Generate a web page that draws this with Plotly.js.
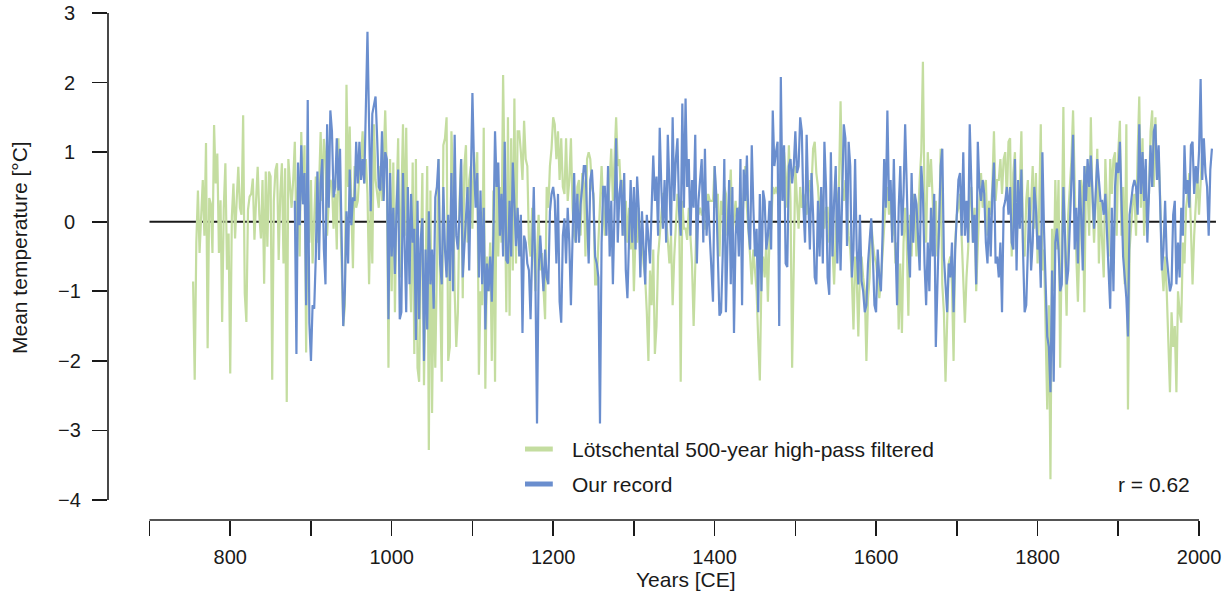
<!DOCTYPE html>
<html>
<head>
<meta charset="utf-8">
<script src="https://cdn.plot.ly/plotly-3.0.1.min.js"></script>
<style>
  html, body { margin: 0; padding: 0; background: #ffffff; }
  #chart { width: 1227px; height: 599px; }
</style>
</head>
<body>
<div id="chart"></div>
<script>
// Two-yearly temperature anomalies (°C), first value at the start year of each series.
const STEP = 2;
const LOTSCHENTAL_START = 754;
const OUR_RECORD_START = 880;

const lotschental = [
  /* 750 */ -0.86, -2.27, -0.3,
  /* 760 */ 0.45, -0.45, 0.2, 0.6, -0.2,
  /* 770 */ 1.13, -1.82, 0.34, 0.26, -0.45,
  /* 780 */ 1.39, 0.55, 0.98, -0.45, 0.31,
  /* 790 */ -1.44, 0.2, 0.84, -0.69, -0.17,
  /* 800 */ -2.18, 0.07, 0.55, -0.24, 0.31,
  /* 810 */ 0.79, 0.2, 0.1, 1.53, -1.03,
  /* 820 */ -1.44, 0.17, 0.36, 0.4, 0.62,
  /* 830 */ -0.26, 0.3, 0.79, 0.1, -0.24,
  /* 840 */ 0.6, -0.89, 0.72, -0.36, 0.72,
  /* 850 */ 0.65, -2.27, 0.3, 0.74, 0.84,
  /* 860 */ -0.55, 0.4, 0.84, -0.6, 0.77,
  /* 870 */ -2.59, 0.9, 0.5, 0.2, 0.6,
  /* 880 */ 1.15, -0.2, 0.5, -0.5, 1.29,
  /* 890 */ 0.3, 1.1, -1.88, 0.4, -0.3,
  /* 900 */ 0.6, -0.6, 0.2, 0.65, -0.3,
  /* 910 */ 0.5, 1.29, 0.3, 1.19, 0.9,
  /* 920 */ -0.2, 0.3, 0.6, 0.55, -0.1,
  /* 930 */ 0.4, -0.4, 1.2, 0.3, -0.5,
  /* 940 */ -1.5, -1.2, 1.97, 0.5, 1.37,
  /* 950 */ 0.2, -0.67, 0.8, 0.2, 0.3,
  /* 960 */ 0.7, 0.9, 1.3, 0.55, 0.9,
  /* 970 */ 0.4, -0.9, 0.3, -0.6, 1.4,
  /* 980 */ 0.6, 0.4, 0.2, 0.8, 0.3,
  /* 990 */ 0.9, 1.6, 0.7, -2.1, 0.9,
  /* 1000 */ -1.0, 0.85, -1.3, 0.3, 1.2,
  /* 1010 */ -0.8, 0.2, 1.4, -0.2, 1.35,
  /* 1020 */ -0.5, -0.6, -1.3, 0.85, -1.9,
  /* 1030 */ 0.9, -2.1, -2.3, -0.6, 0.7,
  /* 1040 */ -2.35, -0.7, 0.8, -3.28, 0.45,
  /* 1050 */ -2.75, -0.8, -2.1, -0.5, 0.9,
  /* 1060 */ -1.0, -2.3, 1.1, 1.2, 1.5,
  /* 1070 */ -2.0, -1.8, 1.3, 0.6, -1.0,
  /* 1080 */ -1.8, -1.3, 0.3, 0.9, -1.1,
  /* 1090 */ 0.8, 1.1, -0.3, 0.6, 0.8,
  /* 1100 */ -0.1, 1.0, 0.4, 1.0, -2.2,
  /* 1110 */ -1.0, -1.2, 1.35, -2.4, -0.5,
  /* 1120 */ -1.0, -0.3, -2.0, 0.45, -2.3,
  /* 1130 */ 0.85, -0.5, 0.5, -0.3, 2.11,
  /* 1140 */ 0.5, -1.3, 1.5, -1.35, 1.2,
  /* 1150 */ -0.7, 1.77, -0.6, 1.3, 1.3,
  /* 1160 */ 1.0, 0.6, 1.45, 0.9, 0.8,
  /* 1170 */ -0.3, -0.5, 0.2, -0.25, -1.0,
  /* 1180 */ -0.5, 0.1, -0.7, -0.45, -0.95,
  /* 1190 */ -1.4, 0.5, 0.2, 0.8, 1.05,
  /* 1200 */ 1.5, 1.4, 0.9, 1.3, 0.6,
  /* 1210 */ 1.2, 0.5, 0.4, 1.2, 0.3,
  /* 1220 */ 0.6, 1.2, 0.2, -0.2, -0.3,
  /* 1230 */ 0.5, 0.6, -0.2, 0.7, 0.55,
  /* 1240 */ -0.5, 0.9, 1.0, 0.9, 0.5,
  /* 1250 */ 0.4, -0.9, -0.9, -0.3, 0.3,
  /* 1260 */ 0.8, 0.2, -0.2, 0.4, 0.2,
  /* 1270 */ 0.6, 1.05, 0.3, 0.8, 1.5,
  /* 1280 */ 0.8, 0.9, 0.4, 0.6, -0.2,
  /* 1290 */ 0.3, -0.3, 0.2, -0.4, 0.1,
  /* 1300 */ -1.0, -0.2, -0.3, 0.2, -0.5,
  /* 1310 */ -0.1, -0.6, -0.8, -1.3, -2.0,
  /* 1320 */ -0.7, -1.2, -0.4, -1.9, -1.5,
  /* 1330 */ -0.5, -0.2, 0.1, 0.4, 0.4,
  /* 1340 */ 0.1, -0.3, -0.6, -0.2, -1.2,
  /* 1350 */ -0.5, -0.1, 0.4, 0.3, -2.3,
  /* 1360 */ 0.3, -0.1, -0.1, -0.26, 0.2,
  /* 1370 */ -0.3, -0.6, -1.5, -0.4, 0.2,
  /* 1380 */ 0.1, 0.2, 0.1, 0.1, -0.1,
  /* 1390 */ -0.1, 0.4, 0.3, 0.3, 0.3,
  /* 1400 */ 0.8, 0.2, 0.4, -0.5, 0.3,
  /* 1410 */ 0.1, 0.5, 0.4, -0.2, 0.2,
  /* 1420 */ 0.75, -0.2, 0.1, 0.3, -0.1,
  /* 1430 */ 0.2, 0.2, -0.1, 0.4, 0.8,
  /* 1440 */ 0.2, -0.1, -0.5, -0.9, -0.4,
  /* 1450 */ -0.7, -1.0, -1.7, -2.28, -0.8,
  /* 1460 */ -0.5, -0.8, -0.3, -1.15, -0.2,
  /* 1470 */ -0.1, 0.5, 0.4, 0.5, 0.4,
  /* 1480 */ 0.6, 0.5, 0.8, 1.0, 0.7,
  /* 1490 */ 0.2, 1.1, 0.3, -2.1, -0.3,
  /* 1500 */ 0.8, 0.3, -0.1, 0.5, 0.2,
  /* 1510 */ 0.4, 0.3, 0.1, 0.4, 0.6,
  /* 1520 */ 0.5, 1.05, 1.15, 0.7, 0.5,
  /* 1530 */ 0.1, 0.4, 0.3, -0.1, 0.2,
  /* 1540 */ 0.2, -0.3, 0.1, -0.5, -0.9,
  /* 1550 */ -0.2, 0.3, 0.5, 1.73, 0.5,
  /* 1560 */ 0.3, 0.6, 0.2, -0.2, -0.4,
  /* 1570 */ -0.8, -1.55, -0.5, -0.8, -1.65,
  /* 1580 */ -0.7, -0.5, -0.8, -1.0, -2.0,
  /* 1590 */ -1.1, -0.8, 0.0, -0.3, -0.5,
  /* 1600 */ -0.6, -0.9, -1.1, -0.85, -0.4,
  /* 1610 */ 0.0, 0.3, 0.5, 0.1, 0.4,
  /* 1620 */ -0.2, 0.2, -0.6, -0.3, -1.55,
  /* 1630 */ -0.6, -1.6, -0.3, 0.2, -0.3,
  /* 1640 */ -1.35, 0.1, -0.5, 0.4, 0.2,
  /* 1650 */ -0.5, 0.2, 0.6, 1.0, 2.3,
  /* 1660 */ 0.3, -0.3, 1.0, 0.5, 0.9,
  /* 1670 */ 0.4, -0.2, 0.3, -0.5, -0.2,
  /* 1680 */ 1.05, -0.9, -1.3, -2.3, -1.4,
  /* 1690 */ -0.6, -0.5, -0.9, -2.0, -0.3,
  /* 1700 */ 0.1, 0.2, 0.4, -0.3, -0.8,
  /* 1710 */ -1.45, -0.8, -0.4, 0.3, 0.5,
  /* 1720 */ -0.3, 0.2, -1.0, -0.2, 0.3,
  /* 1730 */ 0.7, 0.2, 0.5, 0.6, -0.2,
  /* 1740 */ 0.3, 0.1, 0.5, 1.3, 0.3,
  /* 1750 */ 0.6, 0.6, 0.9, 0.4, 0.9,
  /* 1760 */ 1.0, 0.3, 1.15, 1.2, -0.5,
  /* 1770 */ 0.7, 1.0, -0.4, 0.3, 0.5,
  /* 1780 */ 1.3, -0.3, -0.5, 0.3, 0.6,
  /* 1790 */ -0.3, 0.4, 0.8, -0.1, 0.7,
  /* 1800 */ -0.6, 0.2, 1.4, -0.7, -0.4,
  /* 1810 */ -1.7, -2.7, -1.2, -3.7, -0.1,
  /* 1820 */ -1.0, 0.6, -0.4, 0.6, -2.1,
  /* 1830 */ -0.3, 1.65, -0.5, -1.35, 0.1,
  /* 1840 */ 0.5, 0.9, 1.6, 0.3, -0.5,
  /* 1850 */ -1.15, -0.3, 0.6, 0.4, -1.3,
  /* 1860 */ 0.8, 0.5, -0.2, 1.5, 0.3,
  /* 1870 */ -0.3, 0.3, 1.05, -0.6, 0.3,
  /* 1880 */ -0.3, -0.8, 0.9, 0.2, -0.5,
  /* 1890 */ 0.9, 0.4, 0.9, 1.0, -0.2,
  /* 1900 */ 1.0, 1.45, -0.2, 0.5, -0.9,
  /* 1910 */ 1.4, -2.7, -0.4, -0.1, 0.3,
  /* 1920 */ 0.4, -0.2, 1.0, 1.8, 0.2,
  /* 1930 */ 1.2, -0.2, 0.4, 0.1, 0.4,
  /* 1940 */ 1.3, 1.6, 0.5, 1.5, 0.6,
  /* 1950 */ 1.0, 0.3, -0.6, -1.0, -0.5,
  /* 1960 */ -1.0, -1.6, -2.45, -1.3, -1.8,
  /* 1970 */ -1.5, -2.45, -1.0, -1.3, -1.45,
  /* 1980 */ -0.3, -0.6, 0.2, 0.4, 0.7,
  /* 1990 */ -0.1, -0.9, -0.2, 0.3, 0.7,
  /* 2000 */ 0.1, 0.5, 1.0
];

const ourRecord = [
  /* 880 */ 0.3, -1.9, 0.85, -0.05, 1.1,
  /* 890 */ 0.25, 0.7, -1.2, 1.75, -1.45,
  /* 900 */ -2.0, -1.2, -1.25, -0.5, 0.72,
  /* 910 */ -0.55, 0.55, 0.9, -0.4, -0.9,
  /* 920 */ 1.4, 0.2, 1.6, 1.3, 0.35,
  /* 930 */ 0.5, 1.2, 0.45, 1.05, -0.5,
  /* 940 */ -1.5, -1.0, 0.15, -0.6, 0.75,
  /* 950 */ -0.05, 0.35, 0.3, 1.15, 0.55,
  /* 960 */ 1.15, 0.6, 0.9, 0.55, 1.6,
  /* 970 */ 2.73, 1.4, 0.15, 1.55, 1.7,
  /* 980 */ 1.8, 1.2, 0.5, 0.45, 1.3,
  /* 990 */ 0.3, 1.0, 0.9, -1.4, 0.7,
  /* 1000 */ -0.5, 0.2, -0.75, 0.2, 0.75,
  /* 1010 */ -1.4, -1.3, 0.7, -0.6, -1.3,
  /* 1020 */ 0.5, -0.9, 0.4, -0.3, -0.1,
  /* 1030 */ -1.7, 0.3, -1.4, -0.25, 0.05,
  /* 1040 */ -2.0, -0.4, -1.55, 0.15, -0.9,
  /* 1050 */ -0.4, -1.25, 0.35, 0.5, 0.9,
  /* 1060 */ -0.6, -0.9, 0.5, -0.4, -0.8,
  /* 1070 */ 0.1, -0.85, 0.7, -1.0, 1.25,
  /* 1080 */ -0.2, -0.4, 0.1, 0.9, -0.8,
  /* 1090 */ -0.3, 0.15, 0.5, -0.7, 0.5,
  /* 1100 */ 1.85, 0.8, 0.2, 0.7, -0.8,
  /* 1110 */ 0.45, -0.9, 0.2, -1.55, -0.6,
  /* 1120 */ -1.0, -0.5, -1.15, -0.2, 1.3,
  /* 1130 */ 0.5, 0.85, -0.2, 0.4, -0.5,
  /* 1140 */ 1.15, -0.55, -0.6, 0.3, -0.5,
  /* 1150 */ 0.85, 0.3, -0.35, 0.2, -0.5,
  /* 1160 */ 0.1, -1.6, -0.2, -0.3, -0.6,
  /* 1170 */ -0.7, -1.4, -0.4, 0.5, -0.8,
  /* 1180 */ -2.9, -0.7, -0.2, -0.6, -1.0,
  /* 1190 */ -0.4, -0.8, -0.9, 0.15, 0.4,
  /* 1200 */ 0.5, 0.3, -0.6, 0.4, -1.15,
  /* 1210 */ -1.45, -0.2, 0.05, -0.6, 0.2,
  /* 1220 */ -0.3, -1.2, -0.4, 0.7, -0.3,
  /* 1230 */ 0.4, -0.3, 0.25, 0.5, 0.8,
  /* 1240 */ 0.8, 0.1, -0.6, 0.6, 0.75,
  /* 1250 */ 0.3, -0.5, -0.6, -0.8, -2.9,
  /* 1260 */ -0.3, 0.5, 0.5, -0.2, 0.8,
  /* 1270 */ -0.5, 0.3, -0.9, 0.4, 1.2,
  /* 1280 */ -0.3, 0.4, 0.6, -0.2, 0.7,
  /* 1290 */ -0.7, -1.1, -0.3, 0.6, -0.3,
  /* 1300 */ 0.5, -0.4, 0.65, 0.2, -0.8,
  /* 1310 */ 0.15, -0.4, -0.9, 0.1, -0.2,
  /* 1320 */ -0.6, 0.2, 0.95, 0.3, 0.65,
  /* 1330 */ -0.2, 1.35, 0.5, -0.1, 0.6,
  /* 1340 */ -0.3, 1.25, 0.4, -0.2, 1.5,
  /* 1350 */ 0.3, 0.9, 1.2, 0.15, -0.2,
  /* 1360 */ 1.7, 0.2, 1.77, 0.5, 0.9,
  /* 1370 */ -0.2, 0.6, 0.2, 1.25, -0.6,
  /* 1380 */ 0.3, 0.6, 0.9, -0.3, 1.05,
  /* 1390 */ -0.2, 0.3, -0.2, -0.6, -1.15,
  /* 1400 */ 0.8, 0.4, -0.5, -1.35, -1.3,
  /* 1410 */ -0.5, 0.9, -1.3, -0.3, 0.6,
  /* 1420 */ -0.9, 0.5, -1.6, -0.2, 0.2,
  /* 1430 */ -0.5, 0.9, -1.2, 0.75, 0.3,
  /* 1440 */ 0.95, -0.1, -0.4, 1.1, 0.2,
  /* 1450 */ -0.5, -0.1, -1.3, 0.4, -1.0,
  /* 1460 */ 0.45, 0.3, -0.4, -0.2, 0.3,
  /* 1470 */ -0.4, 1.6, 0.8, 1.0, 1.15,
  /* 1480 */ -1.5, 2.08, 0.3, 1.1, -0.6,
  /* 1490 */ -0.65, 0.8, 0.9, 0.55, 0.8,
  /* 1500 */ 1.3, 0.7, 0.8, 1.5, 1.3,
  /* 1510 */ 0.2, -0.3, 1.25, 0.3, -0.4,
  /* 1520 */ 0.7, 0.1, -0.8, -0.9, 0.3,
  /* 1530 */ -0.5, 0.5, -0.6, 1.15, 0.5,
  /* 1540 */ -0.8, -1.05, 1.0, -0.5, 0.3,
  /* 1550 */ 0.8, -0.6, 0.5, -0.7, 0.3,
  /* 1560 */ 1.4, 1.2, -0.35, 1.15, 0.8,
  /* 1570 */ -0.8, -0.4, 0.9, -0.4, -0.9,
  /* 1580 */ 0.1, -0.85, -1.0, -1.3, -1.2,
  /* 1590 */ -0.6, -0.3, 0.05, -0.5, -1.2,
  /* 1600 */ -1.3, -0.4, -0.8, -1.0, -0.2,
  /* 1610 */ 0.9, 0.2, 1.6, 0.3, 0.6,
  /* 1620 */ -0.3, 0.9, -0.3, -1.2, 0.2,
  /* 1630 */ 0.8, -0.2, 0.4, 1.4, 0.3,
  /* 1640 */ -0.4, -0.8, 0.7, -0.3, 0.4,
  /* 1650 */ 0.25, -0.3, -0.7, 0.8, 0.4,
  /* 1660 */ -0.6, -1.2, -0.3, -1.0, 0.2,
  /* 1670 */ -0.5, 0.4, -1.8, -0.9, 0.2,
  /* 1680 */ 0.8, 1.05, -0.5, -0.9, -1.3,
  /* 1690 */ -0.6, -0.8, -0.3, -1.3, -0.4,
  /* 1700 */ 0.2, 0.6, 0.7, -0.2, 1.0,
  /* 1710 */ -0.2, 0.3, -0.3, 1.4, 0.5,
  /* 1720 */ -0.3, 0.1, -0.9, 1.15, 0.5,
  /* 1730 */ 0.3, 0.6, 0.4, -0.3, -0.6,
  /* 1740 */ 0.2, -0.5, 0.4, 0.85, -0.6,
  /* 1750 */ -0.5, -0.8, -0.3, -1.3, 0.2,
  /* 1760 */ 0.3, 0.5, 0.1, 0.5, -0.3,
  /* 1770 */ -0.4, 0.9, -0.7, 0.6, -0.1,
  /* 1780 */ 0.75, -0.4, -1.3, -1.2, -0.4,
  /* 1790 */ 0.35, -0.7, -0.3, 0.5, 0.2,
  /* 1800 */ -0.4, -0.2, -0.95, 1.0, -0.1,
  /* 1810 */ -1.1, -1.65, -1.8, -2.45, -0.7,
  /* 1820 */ -2.3, -0.3, -0.1, -0.4, -1.0,
  /* 1830 */ -0.9, 0.5, -0.2, -0.9, -0.7,
  /* 1840 */ 0.0, 0.7, 1.25, -0.4, 0.2,
  /* 1850 */ -0.6, 0.6, 0.1, -0.7, 0.8,
  /* 1860 */ 0.3, 0.9, 0.5, 0.95, 0.4,
  /* 1870 */ -0.1, 0.4, 0.9, 0.6, 0.3,
  /* 1880 */ 0.3, 0.1, 0.4, -0.2, -0.8,
  /* 1890 */ -1.25, 0.2, -1.0, 0.5, 0.85,
  /* 1900 */ 0.7, 1.15, 0.3, -0.5, -0.8,
  /* 1910 */ -1.1, -1.65, 0.1, 0.3, 0.5,
  /* 1920 */ 0.6, 0.5, 0.1, 1.4, 0.4,
  /* 1930 */ 1.0, 0.3, 0.9, -0.3, 0.6,
  /* 1940 */ 1.1, 0.5, 1.3, 1.4, 0.6,
  /* 1950 */ 1.1, 0.3, -0.7, -0.4, 0.3,
  /* 1960 */ -0.5, -0.8, -1.0, -0.9, 0.1,
  /* 1970 */ 0.3, -0.9, -0.3, -0.8, 0.2,
  /* 1980 */ -0.2, 1.1, 0.4, 0.6, 0.2,
  /* 1990 */ 1.1, 1.15, 0.4, 0.8, 0.55,
  /* 2000 */ 1.0, 2.05, 0.6, 1.2, 0.7,
  /* 2010 */ 0.5, -0.2, 0.75, 1.05
];

const seriesNames = ['Lötschental 500-year high-pass filtered', 'Our record'];
const correlationText = 'r = 0.62';
const xTickVals = [700, 800, 900, 1000, 1100, 1200, 1300, 1400, 1500, 1600, 1700, 1800, 1900, 2000];
const xTickText = ['', '800', '', '1000', '', '1200', '', '1400', '', '1600', '', '1800', '', '2000'];
const yTickVals = [-4, -3, -2, -1, 0, 1, 2, 3];
const yTickText = ['\u22124', '\u22123', '\u22122', '\u22121', '0', '1', '2', '3'];
const xTitle = 'Years [CE]';
const yTitle = 'Mean temperature [°C]';
const baselineSpan = [700, 2021];

const GREEN = 'rgb(196,221,160)';
const BLUE = 'rgb(106,142,206)';
const INK = '#1a1a1a';
const FONT = 'Liberation Sans, Arial, Helvetica, sans-serif';
const TICK_SIZE = 20;
const TEXT_SIZE = 21;

function yearsFor(start, count) {
  return Array.from({ length: count }, (_, i) => start + STEP * i);
}

const traces = [
  {
    x: yearsFor(LOTSCHENTAL_START, lotschental.length),
    y: lotschental,
    type: 'scatter', mode: 'lines', name: seriesNames[0],
    line: { color: GREEN, width: 2.2 }, hoverinfo: 'x+y'
  },
  {
    x: yearsFor(OUR_RECORD_START, ourRecord.length),
    y: ourRecord,
    type: 'scatter', mode: 'lines', name: seriesNames[1],
    line: { color: BLUE, width: 2.2 }, hoverinfo: 'x+y'
  }
];

// Legend placement in paper coordinates
const legendX0 = 0.375, legendX1 = 0.400, legendTextX = 0.4155;
const legendRows = [0.140, 0.071];
const seriesColors = [GREEN, BLUE];

const shapes = [
  // zero baseline, under the series
  { type: 'line', layer: 'below', xref: 'x', yref: 'y',
    x0: baselineSpan[0], x1: baselineSpan[1], y0: 0, y1: 0,
    line: { color: INK, width: 2 } },
  // detached axis lines spanning the tick range only
  { type: 'line', xref: 'paper', yref: 'y', x0: 0, x1: 0,
    y0: yTickVals[0], y1: yTickVals[yTickVals.length - 1],
    line: { color: INK, width: 1.6 } },
  { type: 'line', xref: 'x', yref: 'paper', y0: 0, y1: 0,
    x0: xTickVals[0], x1: xTickVals[xTickVals.length - 1],
    line: { color: INK, width: 1.6 } }
];
legendRows.forEach((yy, i) => {
  shapes.push({ type: 'line', xref: 'paper', yref: 'paper',
    x0: legendX0, x1: legendX1, y0: yy, y1: yy,
    line: { color: seriesColors[i], width: 5 } });
});

const annotations = [];
yTickVals.forEach((v, i) => {
  annotations.push({ xref: 'paper', yref: 'y', x: 0, y: v, xshift: -39,
    text: yTickText[i], showarrow: false, xanchor: 'center', yanchor: 'middle',
    font: { family: FONT, size: TICK_SIZE, color: INK } });
});
legendRows.forEach((yy, i) => {
  annotations.push({ xref: 'paper', yref: 'paper', x: legendTextX, y: yy,
    text: seriesNames[i], showarrow: false, xanchor: 'left', yanchor: 'middle',
    font: { family: FONT, size: TEXT_SIZE, color: INK } });
});
annotations.push({ xref: 'paper', yref: 'paper', x: 0.975, y: legendRows[1],
  text: correlationText, showarrow: false, xanchor: 'right', yanchor: 'middle',
  font: { family: FONT, size: TEXT_SIZE, color: INK } });
annotations.push({ xref: 'paper', yref: 'paper', x: 0.5198, y: -0.1183,
  text: xTitle, showarrow: false, xanchor: 'center', yanchor: 'middle',
  font: { family: FONT, size: TEXT_SIZE, color: INK } });
annotations.push({ xref: 'paper', yref: 'paper', x: 0, xshift: -88, y: 0.5365,
  text: yTitle, textangle: -90, showarrow: false, xanchor: 'center', yanchor: 'middle',
  font: { family: FONT, size: TEXT_SIZE, color: INK } });

const layout = {
  width: 1227, height: 599,
  margin: { l: 108, r: 7, t: 13, b: 79, pad: 0 },
  paper_bgcolor: '#ffffff', plot_bgcolor: '#ffffff',
  showlegend: false,
  font: { family: FONT, size: TICK_SIZE, color: INK },
  xaxis: {
    range: [648.6, 2026], showgrid: false, zeroline: false, showline: false,
    tickmode: 'array', tickvals: xTickVals, ticktext: xTickText,
    ticks: 'outside', ticklen: 15, tickwidth: 1.6, tickcolor: INK,
    ticklabelstandoff: 4,
    tickfont: { family: FONT, size: TICK_SIZE, color: INK }
  },
  yaxis: {
    range: [-4.287, 3.0], showgrid: false, zeroline: false, showline: false,
    tickmode: 'array', tickvals: yTickVals,
    ticks: 'outside', ticklen: 15, tickwidth: 1.6, tickcolor: INK,
    showticklabels: false
  },
  shapes: shapes,
  annotations: annotations
};

Plotly.newPlot('chart', traces, layout, { displayModeBar: false, staticPlot: true });
</script>
</body>
</html>
